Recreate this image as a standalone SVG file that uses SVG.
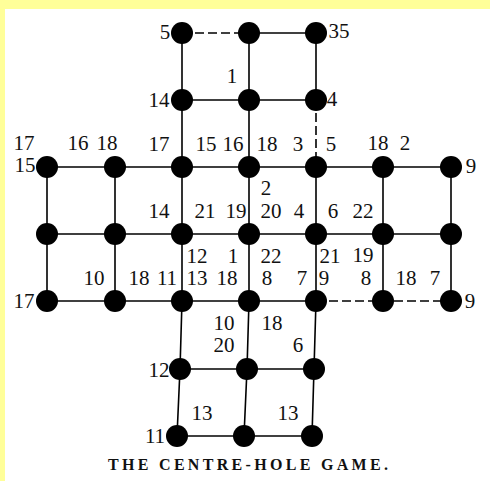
<svg xmlns="http://www.w3.org/2000/svg" width="490" height="481" viewBox="0 0 490 481">
<style>
.e{stroke:#000;stroke-width:1.6;fill:none}
.d{stroke-dasharray:9 4}
.n{fill:#000}
text{font-family:"Liberation Serif","Times New Roman",serif;font-size:21px;fill:#111;text-anchor:middle}
.cap{font-size:16px;font-weight:bold;text-anchor:start}
</style>
<rect width="490" height="481" fill="#FFFF99"/>
<rect x="5" y="9" width="485" height="472" fill="#fff"/>
<g id="connectors">
<path class="e d" d="M182 33H249"/>
<path class="e" d="M249 33H316"/>
<path class="e" d="M182 33V100M249 33V100M316 33V100"/>
<path class="e" d="M182 100H316"/>
<path class="e" d="M182 100V167M249 100V167"/>
<path class="e d" d="M316 100V167"/>
<path class="e" d="M47 167H451M47 234H451"/>
<path class="e" d="M47 301H316"/>
<path class="e d" d="M316 301H451"/>
<path class="e" d="M47 167V301M115 167V301M182 167V301M249 167V301M316 167V301M383 167V301M451 167V301"/>
<path class="e" d="M182 301L180 369M249 301L247 369M316 301L314 369"/>
<path class="e" d="M180 369H314"/>
<path class="e" d="M180 369L177 436M247 369L244 436M314 369L312 436"/>
<path class="e" d="M177 436H312"/>
</g>
<g id="n-a1"><circle class="n" cx="182" cy="33" r="11"/><text x="165" y="39">5</text></g>
<g id="n-a2"><circle class="n" cx="249" cy="33" r="11"/></g>
<g id="n-a3"><circle class="n" cx="316" cy="33" r="11"/><text x="339" y="38">35</text></g>
<g id="n-b1"><circle class="n" cx="182" cy="100" r="11"/><text x="159" y="107">14</text></g>
<g id="n-b2"><circle class="n" cx="249" cy="100" r="11"/></g>
<g id="n-b3"><circle class="n" cx="316" cy="100" r="11"/><text x="332" y="106">4</text></g>
<g id="n-c1"><circle class="n" cx="47" cy="167" r="11"/><text x="25" y="172">15</text></g>
<g id="n-c2"><circle class="n" cx="115" cy="167" r="11"/></g>
<g id="n-c3"><circle class="n" cx="182" cy="167" r="11"/></g>
<g id="n-c4"><circle class="n" cx="249" cy="167" r="11"/></g>
<g id="n-c5"><circle class="n" cx="316" cy="167" r="11"/></g>
<g id="n-c6"><circle class="n" cx="383" cy="167" r="11"/></g>
<g id="n-c7"><circle class="n" cx="451" cy="167" r="11"/><text x="471" y="173">9</text></g>
<g id="n-d1"><circle class="n" cx="47" cy="234" r="11"/></g>
<g id="n-d2"><circle class="n" cx="115" cy="234" r="11"/></g>
<g id="n-d3"><circle class="n" cx="182" cy="234" r="11"/></g>
<g id="n-d4"><circle class="n" cx="249" cy="234" r="11"/></g>
<g id="n-d5"><circle class="n" cx="316" cy="234" r="11"/></g>
<g id="n-d6"><circle class="n" cx="383" cy="234" r="11"/></g>
<g id="n-d7"><circle class="n" cx="451" cy="234" r="11"/></g>
<g id="n-e1"><circle class="n" cx="47" cy="301" r="11"/><text x="24" y="308">17</text></g>
<g id="n-e2"><circle class="n" cx="115" cy="301" r="11"/></g>
<g id="n-e3"><circle class="n" cx="182" cy="301" r="11"/></g>
<g id="n-e4"><circle class="n" cx="249" cy="301" r="11"/></g>
<g id="n-e5"><circle class="n" cx="316" cy="301" r="11"/></g>
<g id="n-e6"><circle class="n" cx="383" cy="301" r="11"/></g>
<g id="n-e7"><circle class="n" cx="451" cy="301" r="11"/><text x="470" y="308">9</text></g>
<g id="n-f1"><circle class="n" cx="180" cy="369" r="11"/><text x="159" y="377">12</text></g>
<g id="n-f2"><circle class="n" cx="247" cy="369" r="11"/></g>
<g id="n-f3"><circle class="n" cx="314" cy="369" r="11"/></g>
<g id="n-g1"><circle class="n" cx="177" cy="436" r="11"/><text x="155" y="443">11</text></g>
<g id="n-g2"><circle class="n" cx="244" cy="436" r="11"/></g>
<g id="n-g3"><circle class="n" cx="312" cy="436" r="11"/></g>
<g id="labels">
<text x="232" y="83">1</text>
<text x="24" y="150">17</text>
<text x="78" y="150">16</text>
<text x="107" y="150">18</text>
<text x="159" y="151">17</text>
<text x="206" y="151">15</text>
<text x="233" y="151">16</text>
<text x="267" y="151">18</text>
<text x="298" y="151">3</text>
<text x="331" y="151">5</text>
<text x="378" y="150">18</text>
<text x="405" y="150">2</text>
<text x="266" y="195">2</text>
<text x="159" y="218">14</text>
<text x="205" y="218">21</text>
<text x="236" y="218">19</text>
<text x="271" y="218">20</text>
<text x="299" y="218">4</text>
<text x="333" y="218">6</text>
<text x="363" y="218">22</text>
<text x="197" y="263">12</text>
<text x="233" y="263">1</text>
<text x="271" y="263">22</text>
<text x="330" y="263">21</text>
<text x="363" y="262">19</text>
<text x="94" y="285">10</text>
<text x="139" y="285">18</text>
<text x="167" y="285">11</text>
<text x="197" y="285">13</text>
<text x="227" y="285">18</text>
<text x="267" y="285">8</text>
<text x="302" y="285">7</text>
<text x="324" y="285">9</text>
<text x="366" y="285">8</text>
<text x="406" y="285">18</text>
<text x="435" y="285">7</text>
<text x="224" y="330">10</text>
<text x="272" y="330">18</text>
<text x="224" y="352">20</text>
<text x="298" y="352">6</text>
<text x="202" y="420">13</text>
<text x="288" y="420">13</text>
<text class="cap" x="108" y="470" textLength="280" lengthAdjust="spacing">THE CENTRE-HOLE GAME.</text>
</g>
</svg>
